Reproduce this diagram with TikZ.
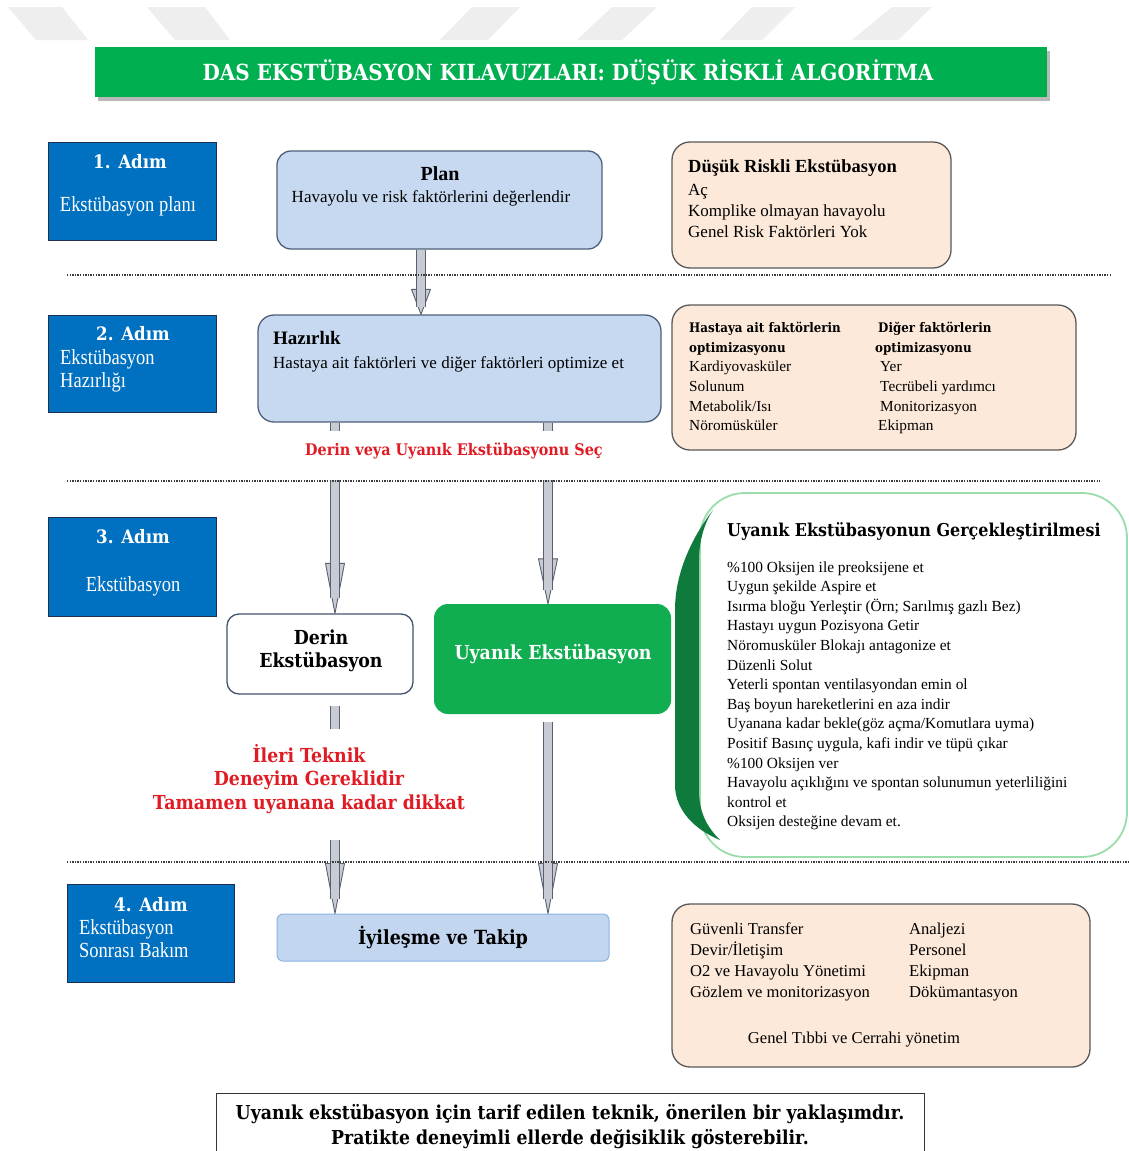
\documentclass[tikz,border=0pt]{standalone}
\usepackage{fontspec}
\setmainfont{Liberation Serif}
\newfontfamily\slab[FakeStretch=0.9]{DejaVu Serif}
\newfontfamily\narrow[FakeStretch=0.86]{Liberation Serif}
\usetikzlibrary{calc}
\definecolor{stepblue}{HTML}{0070C0}
\definecolor{stepedge}{HTML}{1F2F50}
\definecolor{lightblue}{HTML}{C6D9F1}
\definecolor{blueedge}{HTML}{4E5F7A}
\definecolor{peach}{HTML}{FDE9D9}
\definecolor{peachedge}{HTML}{595959}
\definecolor{titlegreen}{HTML}{00B050}
\definecolor{awakegreen}{HTML}{10AE50}
\definecolor{darkband}{HTML}{0E7A3B}
\definecolor{callborder}{HTML}{9BDDAA}
\definecolor{arrfill}{HTML}{C8CBD3}
\definecolor{arredge}{HTML}{5A6070}
\definecolor{redtxt}{HTML}{E01B24}
\definecolor{derinedge}{HTML}{44546E}
\definecolor{iyiedge}{HTML}{8DB3E2}
\definecolor{iyifill}{HTML}{C2D6EF}
\definecolor{stripe}{HTML}{EEEEEE}
\definecolor{dotcol}{HTML}{3A3A3A}
\newcommand{\fs}[2]{\fontsize{#1}{#2}\selectfont}
\newcommand{\hb}{\slab\bfseries\fontsize{13.2}{19.6}\selectfont}
\newcommand{\fatarrow}[4]{%
  \path[arrhead] let \p1=(#1), \p2=(#2) in
    ({\x1-9.5pt},{\y2+#3pt}) -- (\x1,\y2) -- ({\x1+9.5pt},{\y2+#3pt}) -- cycle;
  \path[fill=arrfill] let \p1=(#1), \p2=(#2) in
    ({\x1-4.5pt},{\y1-#4pt}) rectangle ({\x1+4.5pt},{\y2+0.3*#3pt});
  \path[draw=arredge, line width=0.9pt] let \p1=(#1), \p2=(#2) in
    ({\x1-4.5pt},{\y1-#4pt}) -- ({\x1-4.5pt},{\y2+0.3*#3pt})
    ({\x1+4.5pt},{\y1-#4pt}) -- ({\x1+4.5pt},{\y2+0.3*#3pt});
}
\begin{document}
\begin{tikzpicture}[x=1pt,y=-1pt,
  stepbox/.style={draw=stepedge, fill=stepblue, line width=1pt, minimum width=168pt, minimum height=98pt, inner sep=0pt},
  bluebox/.style={draw=blueedge, fill=lightblue, line width=1.3pt, rounded corners=14pt, inner sep=0pt},
  peachbox/.style={draw=peachedge, fill=peach, line width=1.3pt, rounded corners=18pt, inner sep=0pt},
  lbl/.style={inner sep=0pt, anchor=base},
  lblw/.style={inner sep=0pt, anchor=base west},
  steptxt/.style={lbl, text=white},
  divider/.style={draw=dotcol, line width=1.6pt, dash pattern=on 1.3pt off 1.3pt},
  arrhead/.style={draw=arredge, fill=arrfill, line width=0.9pt, line join=round}]
\useasboundingbox (0,0) rectangle (1129,1151);
\fill[white] (0,0) rectangle (1129,1151);
% faint stripes
\fill[stripe] (8,7) -- (62,7) -- (88,40) -- (36,40) -- cycle;
\fill[stripe] (147,7) -- (205,7) -- (230,40) -- (175,40) -- cycle;
\fill[stripe] (472,7) -- (520,7) -- (488,40) -- (440,40) -- cycle;
\fill[stripe] (612,7) -- (657,7) -- (622,40) -- (577,40) -- cycle;
\fill[stripe] (752,7) -- (795,7) -- (762,40) -- (720,40) -- cycle;
\fill[stripe] (892,7) -- (932,7) -- (898,40) -- (852,40) -- cycle;
% title
\fill[gray!55] (98,51) rectangle (1050,101);
\node[fill=titlegreen, minimum width=952pt, minimum height=50pt, inner sep=0pt] (title) at (571,72) {};
\node[lbl, text=white] (titletxt) at (568,80) {\slab\bfseries\fs{22.2}{26}DAS EKSTÜBASYON KILAVUZLARI: DÜŞÜK RİSKLİ ALGORİTMA};
% boxes
\node[stepbox] (s1) at (132,191) {};
\node[stepbox, minimum height=97pt] (s2) at (132,363.5) {};
\node[stepbox, minimum height=99pt] (s3) at (132,566.5) {};
\node[stepbox, minimum width=167pt] (s4) at (150.5,933) {};
\node[bluebox, minimum width=325pt, minimum height=98pt] (plan) at (439.5,200) {};
\node[peachbox, minimum width=279pt, minimum height=126pt] (lowrisk) at (811.5,205) {};
\node[bluebox, rounded corners=16pt, minimum width=403pt, minimum height=107pt] (hazirlik) at (459.5,368.5) {};
\node[peachbox, minimum width=404pt, minimum height=145pt] (factors) at (874,377.5) {};
\node[draw=derinedge, fill=white, line width=1.3pt, rounded corners=12pt, minimum width=186pt, minimum height=80pt, inner sep=0pt] (derin) at (320,654) {};
\node[fill=awakegreen, rounded corners=14pt, minimum width=237pt, minimum height=110pt, inner sep=0pt] (uyanik) at (552.5,659) {};
\node[draw=callborder, fill=white, line width=1.8pt, rounded corners=45pt, minimum width=427pt, minimum height=364pt, inner sep=0pt] (callout) at (913.5,675) {};
\node[draw=iyiedge, fill=iyifill, line width=1pt, rounded corners=6pt, minimum width=332pt, minimum height=47pt, inner sep=0pt] (iyilesme) at (443,937.5) {};
\node[peachbox, minimum width=418pt, minimum height=163pt] (post) at (881,985.5) {};
% dark green band of callout
\fill[darkband] (713,510) .. controls (690,540) and (675,575) .. (675,610) -- (675,785)
  .. controls (675,810) and (695,830) .. (720,840) .. controls (705,825) and (699,810) .. (699,790)
  -- (699,560) .. controls (699,540) and (705,522) .. (713,510) -- cycle;
% arrows
\coordinate (ax0) at (421,0);
\coordinate (ax1) at (335,0);
\coordinate (ax2) at (548,0);
\fatarrow{ax0 |- plan.south}{ax0 |- hazirlik.north}{25}{0}
\fatarrow{ax1 |- hazirlik.south}{ax1 |- derin.north}{50}{0}
\fatarrow{ax2 |- hazirlik.south}{ax2 |- uyanik.north}{45}{0}
\fatarrow{ax1 |- derin.south}{ax1 |- iyilesme.north}{50}{11}
\fatarrow{ax2 |- uyanik.south}{ax2 |- iyilesme.north}{50}{8}
% gaps in the arrows
\fill[white] (300,431) rectangle (600,480);
\fill[white] (320,729) rectangle (350,840);
% dividers
\draw[divider] (67,275) -- (1110,275);
\draw[divider] (67,481) -- (1100,481);
\draw[divider] (67,862) -- (1129,862);
% step labels
\node[steptxt] (s1a) at (130,168.5) {\slab\bfseries\fs{18.5}{20}1. Adım};
\node[steptxt] (s1b) at (128,211) {\narrow\fs{21.5}{24}Ekstübasyon planı};
\node[steptxt] (s2a) at (133,340.5) {\slab\bfseries\fs{18.5}{20}2. Adım};
\node[lblw, text=white] (s2b) at (60,364) {\narrow\fs{21.5}{23.5}\begin{tabular}[t]{@{}l@{}}Ekstübasyon\\Hazırlığı\end{tabular}};
\node[steptxt] (s3a) at (133,543.5) {\slab\bfseries\fs{18.5}{20}3. Adım};
\node[steptxt] (s3b) at (133,591) {\narrow\fs{21.5}{24}Ekstübasyon};
\node[steptxt] (s4a) at (151,911) {\slab\bfseries\fs{18.5}{20}4. Adım};
\node[lblw, text=white] (s4b) at (79,934) {\narrow\fs{21.5}{23.5}\begin{tabular}[t]{@{}l@{}}Ekstübasyon\\Sonrası Bakım\end{tabular}};
% plan
\node[lbl] (plant) at (440,180) {\bfseries\fs{20}{22}Plan};
\node[lbl] (plans) at (431,202) {\fs{17}{20}Havayolu ve risk faktörlerini değerlendir};
% low risk
\node[lblw] (lowt) at (688,172) {\bfseries\fs{18.5}{22}Düşük Riskli Ekstübasyon};
\node[lblw] (lowl) at (688,195.5) {\fs{17}{21}\begin{tabular}[t]{@{}l@{}}Aç\\Komplike olmayan havayolu\\Genel Risk Faktörleri Yok\end{tabular}};
% hazirlik
\node[lblw] (hazt) at (273,344) {\bfseries\fs{19}{22}Hazırlık};
\node[lblw] (hazs) at (273,368) {\fs{17}{20}Hastaya ait faktörleri ve diğer faktörleri optimize et};
% factors
\node[lblw] (facl) at (689,332.6) {\fs{15.3}{19.6}\begin{tabular}[t]{@{}l@{}}{\hb Hastaya ait faktörlerin}\\{\hb optimizasyonu}\\Kardiyovasküler\\Solunum\\Metabolik/Isı\\Nöromüsküler\end{tabular}};
\node[lblw] (facr) at (875,332.6) {\fs{15.3}{19.6}\begin{tabular}[t]{@{}l@{}}{\hb\hspace{3pt}Diğer faktörlerin}\\{\hb optimizasyonu}\\\hspace{5pt}Yer\\\hspace{5pt}Tecrübeli yardımcı\\\hspace{5pt}Monitorizasyon\\\hspace{3pt}Ekipman\end{tabular}};
% choose
\node[lbl, text=redtxt] (choose) at (454,455.5) {\slab\bfseries\fs{16}{18}Derin veya Uyanık Ekstübasyonu Seç};
% derin / uyanik
\node[lbl] (derint) at (321,644) {\slab\bfseries\fs{19.3}{23.5}\begin{tabular}[t]{@{}c@{}}Derin\\Ekstübasyon\end{tabular}};
\node[lbl, text=white] (uyanikt) at (553,659) {\slab\bfseries\fs{19.3}{22}Uyanık Ekstübasyon};
\node[lbl, text=redtxt] (warn) at (309,762) {\slab\bfseries\fs{19.3}{23.8}\begin{tabular}[t]{@{}c@{}}İleri Teknik\\Deneyim Gereklidir\\Tamamen uyanana kadar dikkat\end{tabular}};
% callout
\node[lblw] (callt) at (727,536.5) {\slab\bfseries\fs{17.7}{20}Uyanık Ekstübasyonun Gerçekleştirilmesi};
\node[lblw] (calll) at (727,572) {\fs{15.4}{19.6}\begin{tabular}[t]{@{}l@{}}\%100 Oksijen ile preoksijene et\\Uygun şekilde Aspire et\\Isırma bloğu Yerleştir (Örn; Sarılmış gazlı Bez)\\Hastayı uygun Pozisyona Getir\\Nöromusküler Blokajı antagonize et\\Düzenli Solut\\Yeterli spontan ventilasyondan emin ol\\Baş boyun hareketlerini en aza indir\\Uyanana kadar bekle(göz açma/Komutlara uyma)\\Positif Basınç uygula, kafi indir ve tüpü çıkar\\\%100 Oksijen ver\\Havayolu açıklığını ve spontan solunumun yeterliliğini\\kontrol et\\Oksijen desteğine devam et.\end{tabular}};
% recovery
\node[lbl] (iyit) at (443,944) {\slab\bfseries\fs{19.5}{22}İyileşme ve Takip};
\node[lblw] (postl) at (690,934) {\fs{16.6}{21.3}\begin{tabular}[t]{@{}l@{}}Güvenli Transfer\\Devir/İletişim\\O2 ve Havayolu Yönetimi\\Gözlem ve monitorizasyon\end{tabular}};
\node[lblw] (postr) at (909,934) {\fs{16.6}{21.3}\begin{tabular}[t]{@{}l@{}}Analjezi\\Personel\\Ekipman\\Dökümantasyon\end{tabular}};
\node[lbl] (postg) at (854,1043) {\fs{16.6}{20}Genel Tıbbi ve Cerrahi yönetim};
% note
\node[draw=black!80, fill=white, line width=1.2pt, minimum width=708pt, minimum height=80pt, inner sep=0pt, anchor=north west] (note) at (216,1093) {};
\node[lbl] (notet) at (570,1119) {\slab\bfseries\fs{19.2}{25}\begin{tabular}[t]{@{}c@{}}Uyanık ekstübasyon için tarif edilen teknik, önerilen bir yaklaşımdır.\\Pratikte deneyimli ellerde değisiklik gösterebilir.\end{tabular}};
\end{tikzpicture}
\end{document}
